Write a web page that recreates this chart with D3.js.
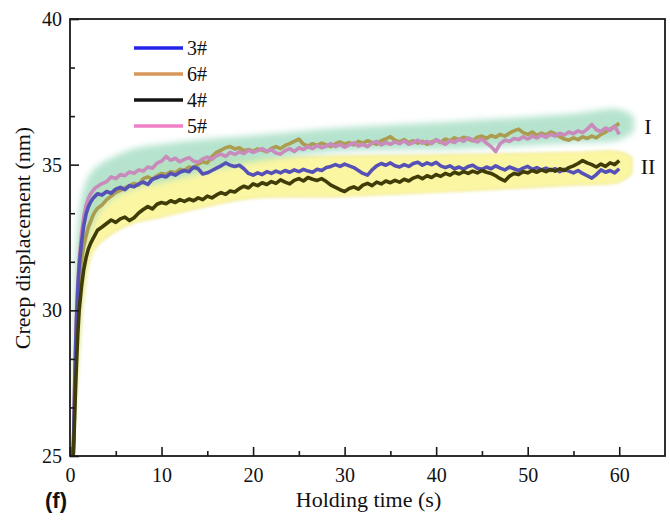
<!DOCTYPE html>
<html>
<head>
<meta charset="utf-8">
<script src="https://cdn.jsdelivr.net/npm/d3@7"></script>
<style>
  html, body { margin: 0; padding: 0; background: #fff; }
  svg { display: block; }
</style>
</head>
<body>
<svg id="chart" width="670" height="520"></svg>
<script>
// Sampling times (s): dense at the loading onset, then every 0.5 s
const earlyTimes = [0.35, 0.45, 0.55, 0.7, 0.85, 1.0, 1.25, 1.5, 1.75, 2.0, 2.25, 2.5, 2.75, 3.0];
const times = earlyTimes.concat(d3.range(3.5, 60.001, 0.5));

// Creep displacement (nm) per sample
const s3Early = [25.0, 26.3, 28.0, 29.6, 30.7, 31.5, 32.3, 32.9, 33.3, 33.55, 33.72, 33.84, 33.92, 34.0];
const s3 = [33.96, 34.08, 34.02, 34.16, 34.22, 34.14, 34.28, 34.24, 34.34, 34.40, 34.32, 34.50, 34.56, 34.62, 34.58, 34.70, 34.64, 34.74, 34.80, 34.76,
  34.92, 34.86, 34.68, 34.72, 34.80, 34.88, 34.96, 35.06, 34.98, 34.94, 34.98, 34.86, 34.70, 34.64, 34.72, 34.66, 34.76, 34.70, 34.78, 34.72,
  34.80, 34.74, 34.82, 34.76, 34.84, 34.78, 34.74, 34.84, 34.80, 34.90, 34.94, 35.00, 34.94, 35.02, 34.96, 34.90, 34.80, 34.70, 34.64, 34.82,
  34.96, 35.04, 34.98, 35.06, 34.96, 34.92, 35.00, 34.94, 35.04, 35.08, 34.98, 35.06, 35.00, 35.08, 34.96, 34.90, 34.96, 34.86, 34.92, 34.84,
  34.94, 34.98, 34.88, 34.84, 34.92, 34.86, 34.96, 34.88, 34.82, 34.92, 34.86, 34.80, 34.88, 34.94, 34.84, 34.90, 34.82, 34.88, 34.80, 34.86,
  34.76, 34.84, 34.78, 34.72, 34.80, 34.70, 34.62, 34.54, 34.66, 34.82, 34.74, 34.80, 34.72, 34.86];

const s6Early = [25.0, 26.0, 27.5, 29.1, 30.2, 31.0, 31.7, 32.2, 32.55, 32.85, 33.05, 33.25, 33.4, 33.5];
const s6 = [33.62, 33.80, 33.92, 34.05, 34.12, 34.20, 34.28, 34.36, 34.30, 34.52, 34.58, 34.50, 34.62, 34.70, 34.66, 34.76, 34.72, 34.84, 34.80, 34.92,
  34.88, 35.02, 35.10, 35.06, 35.28, 35.42, 35.50, 35.58, 35.62, 35.54, 35.58, 35.48, 35.52, 35.46, 35.54, 35.50, 35.44, 35.56, 35.62, 35.55,
  35.66, 35.72, 35.80, 35.88, 35.70, 35.64, 35.72, 35.66, 35.74, 35.68, 35.62, 35.72, 35.78, 35.70, 35.76, 35.68, 35.80, 35.74, 35.82, 35.76,
  35.70, 35.82, 35.88, 35.96, 35.84, 35.78, 35.86, 35.76, 35.82, 35.74, 35.80, 35.70, 35.78, 35.84, 35.76, 35.88, 35.82, 35.92, 35.86, 35.94,
  35.88, 35.82, 35.94, 35.98, 35.90, 36.00, 35.94, 36.04, 35.98, 36.08, 36.16, 36.22, 36.10, 36.04, 36.12, 36.00, 36.08, 36.02, 36.12, 36.06,
  35.96, 35.88, 35.84, 35.92, 35.86, 35.96, 35.90, 35.98, 35.92, 36.04, 36.12, 36.22, 36.30, 36.42];

const s4Early = [25.0, 25.8, 26.8, 28.1, 29.2, 30.0, 30.8, 31.4, 31.8, 32.1, 32.3, 32.45, 32.6, 32.75];
const s4 = [32.86, 32.98, 33.10, 33.02, 33.14, 33.20, 33.08, 33.18, 33.34, 33.46, 33.56, 33.48, 33.64, 33.70, 33.66, 33.76, 33.70, 33.80, 33.74, 33.82,
  33.76, 33.86, 33.80, 33.92, 33.86, 33.96, 34.04, 33.98, 34.10, 34.06, 34.18, 34.26, 34.20, 34.34, 34.28, 34.38, 34.32, 34.42, 34.36, 34.48,
  34.40, 34.34, 34.46, 34.52, 34.44, 34.56, 34.50, 34.46, 34.52, 34.42, 34.30, 34.22, 34.14, 34.08, 34.18, 34.24, 34.16, 34.30, 34.36, 34.28,
  34.40, 34.34, 34.44, 34.38, 34.46, 34.40, 34.50, 34.44, 34.54, 34.60, 34.52, 34.62, 34.56, 34.66, 34.60, 34.70, 34.64, 34.74, 34.68, 34.76,
  34.70, 34.78, 34.72, 34.80, 34.74, 34.70, 34.62, 34.52, 34.44, 34.60, 34.70, 34.66, 34.76, 34.72, 34.80, 34.74, 34.82, 34.76, 34.84, 34.78,
  34.86, 34.80, 34.90, 34.96, 35.04, 35.14, 35.06, 35.00, 34.92, 35.02, 34.94, 35.06, 35.00, 35.14];

const s5Early = [25.0, 26.5, 28.2, 29.8, 30.9, 31.7, 32.6, 33.2, 33.6, 33.85, 34.0, 34.1, 34.2, 34.25];
const s5 = [34.35, 34.42, 34.58, 34.52, 34.66, 34.62, 34.75, 34.70, 34.82, 34.78, 34.92, 34.88, 35.05, 35.12, 35.28, 35.15, 35.22, 35.10, 35.18, 35.24,
  35.12, 35.08, 35.20, 35.26, 35.18, 35.30, 35.36, 35.28, 35.42, 35.35, 35.44, 35.38, 35.50, 35.42, 35.48, 35.55, 35.46, 35.52, 35.40, 35.36,
  35.48, 35.55, 35.45, 35.58, 35.52, 35.62, 35.55, 35.66, 35.58, 35.64, 35.72, 35.62, 35.70, 35.60, 35.68, 35.75, 35.64, 35.70, 35.62, 35.74,
  35.80, 35.68, 35.76, 35.70, 35.78, 35.72, 35.82, 35.70, 35.76, 35.84, 35.74, 35.80, 35.72, 35.86, 35.78, 35.70, 35.82, 35.76, 35.88, 35.80,
  35.92, 35.84, 35.78, 35.88, 35.74, 35.62, 35.45, 35.72, 35.84, 35.80, 35.90, 35.86, 35.96, 35.88, 35.98, 35.92, 36.02, 35.94, 36.04, 35.98,
  36.08, 36.02, 36.12, 36.06, 36.16, 36.10, 36.22, 36.38, 36.20, 36.14, 36.26, 36.18, 36.32, 36.04];

const seriesNames = ["3#", "6#", "4#", "5#"];
const legendColors = ["#2323ea", "#d8975a", "#141414", "#ef7fc6"];
const traceColors = ["#5551b6", "#ac9c50", "#3f3c08", "#c98bbb"];
const seriesValues = [s3Early.concat(s3), s6Early.concat(s6), s4Early.concat(s4), s5Early.concat(s5)];
const drawOrder = [1, 3, 0, 2];

// Highlight bands: [time, lower, upper]
const bandUpper = [[0.3, 26.0, 27.5], [0.6, 28.3, 31.8], [1.0, 30.2, 33.3], [1.5, 31.8, 34.2], [2.5, 33.0, 34.8], [4, 33.7, 35.15],
  [7, 34.2, 35.55], [10, 34.4, 35.7], [14, 34.7, 35.85], [20, 35.1, 36.0], [29, 35.45, 36.25], [43, 35.55, 36.5],
  [55, 35.75, 36.75], [60, 35.85, 36.9], [61.6, 36.15, 36.65]];
const bandLower = [[0.4, 25.5, 27.0], [0.7, 27.0, 30.5], [1.0, 28.5, 32.0], [1.5, 30.5, 33.2], [2.5, 32.0, 34.0], [4, 32.5, 34.4],
  [7, 33.0, 34.8], [10, 33.2, 35.0], [14, 33.5, 35.15], [20, 33.85, 35.25], [29, 33.9, 35.3], [43, 34.1, 35.35],
  [55, 34.3, 35.42], [60, 34.4, 35.45], [61.4, 34.7, 35.25]];
const bandLabels = ["I", "II"];

const xTicks = [0, 10, 20, 30, 40, 50, 60];
const xMinor = [5, 15, 25, 35, 45, 55];
const yTicks = [25, 30, 35, 40];
const yMinor = [25 + 5 / 3, 25 + 10 / 3, 30 + 5 / 3, 30 + 10 / 3, 35 + 5 / 3, 35 + 10 / 3];

const svg = d3.select("#chart");
const L = 70, R = 665, T = 19, B = 456;
const x = d3.scaleLinear().domain([0, 65]).range([L, R]);
const y = d3.scaleLinear().domain([25, 40]).range([B, T]);

const defs = svg.append("defs");
defs.append("clipPath").attr("id", "plotClip")
  .append("rect").attr("x", L).attr("y", T).attr("width", R - L).attr("height", B - T);
defs.append("filter").attr("id", "softGreen").attr("x", "-10%").attr("y", "-30%").attr("width", "120%").attr("height", "160%")
  .append("feGaussianBlur").attr("stdDeviation", 3);
defs.append("filter").attr("id", "softYellow").attr("x", "-10%").attr("y", "-30%").attr("width", "120%").attr("height", "160%")
  .append("feGaussianBlur").attr("stdDeviation", 1.6);

const plot = svg.append("g").attr("clip-path", "url(#plotClip)");

const bandArea = d3.area()
  .x(d => x(d[0])).y0(d => y(d[1])).y1(d => y(d[2]))
  .curve(d3.curveCatmullRom.alpha(0.5));

plot.append("path").datum(bandLower)
  .attr("d", bandArea)
  .attr("fill", "#fbf6a2").attr("stroke", "#eee690").attr("stroke-width", 1.2)
  .attr("filter", "url(#softYellow)");
plot.append("path").datum(bandUpper)
  .attr("d", bandArea)
  .attr("fill", "#a9dfc6").attr("opacity", 0.85)
  .attr("filter", "url(#softGreen)");

const line = d3.line()
  .x((d, i) => x(times[i]))
  .y(d => y(d));

drawOrder.forEach(k => {
  plot.append("path").datum(seriesValues[k])
    .attr("d", line)
    .attr("fill", "none")
    .attr("stroke", traceColors[k])
    .attr("stroke-width", 3.6)
    .attr("stroke-linejoin", "round");
});

// Axes with inward ticks
const serif = "'Liberation Serif', 'Times New Roman', serif";
svg.append("g").attr("transform", `translate(0,${B})`)
  .call(d3.axisBottom(x).tickValues(xTicks).tickSizeInner(-9).tickSizeOuter(0).tickPadding(12).tickFormat(d3.format("d")));
svg.append("g").attr("transform", `translate(0,${B})`)
  .call(d3.axisBottom(x).tickValues(xMinor).tickSizeInner(-5).tickSizeOuter(0).tickFormat(""));
svg.append("g").attr("transform", `translate(${L},0)`)
  .call(d3.axisLeft(y).tickValues(yTicks).tickSizeInner(-9).tickSizeOuter(0).tickPadding(8).tickFormat(d3.format("d")));
svg.append("g").attr("transform", `translate(${L},0)`)
  .call(d3.axisLeft(y).tickValues(yMinor).tickSizeInner(-5).tickSizeOuter(0).tickFormat(""));

svg.selectAll(".domain").remove();
svg.selectAll(".tick line").attr("stroke", "#1a1a1a").attr("stroke-width", 1.6);
svg.selectAll(".tick text").attr("font-family", serif).attr("font-size", 20).attr("fill", "#111");

// Frame
svg.append("rect").attr("x", L).attr("y", T).attr("width", R - L).attr("height", B - T)
  .attr("fill", "none").attr("stroke", "#1a1a1a").attr("stroke-width", 1.8);

// Axis titles
svg.append("text").attr("x", (L + R) / 2 + 1).attr("y", 507)
  .attr("text-anchor", "middle").attr("font-family", serif).attr("font-size", 22).attr("fill", "#111")
  .text("Holding time (s)");
svg.append("text").attr("transform", "translate(30,238) rotate(-90)")
  .attr("text-anchor", "middle").attr("font-family", serif).attr("font-size", 22).attr("fill", "#111")
  .text("Creep displacement (nm)");
svg.append("text").attr("x", 45).attr("y", 508)
  .attr("font-family", "'Liberation Sans', Arial, sans-serif").attr("font-weight", "bold").attr("font-size", 22).attr("fill", "#111")
  .text("(f)");

// Legend
const legendY = [48, 74, 100, 126];
seriesNames.forEach((name, i) => {
  svg.append("line").attr("x1", 134).attr("x2", 183).attr("y1", legendY[i]).attr("y2", legendY[i])
    .attr("stroke", legendColors[i]).attr("stroke-width", 3.6);
  svg.append("text").attr("x", 187).attr("y", legendY[i]).attr("dy", "0.35em")
    .attr("font-family", serif).attr("font-size", 20).attr("fill", "#111").text(name);
});

// Band labels
svg.append("text").attr("x", 648).attr("y", 126).attr("dy", "0.35em").attr("text-anchor", "middle")
  .attr("font-family", serif).attr("font-size", 22).attr("fill", "#111").text(bandLabels[0]);
svg.append("text").attr("x", 648).attr("y", 166).attr("dy", "0.35em").attr("text-anchor", "middle")
  .attr("font-family", serif).attr("font-size", 22).attr("fill", "#111").text(bandLabels[1]);
</script>
</body>
</html>
